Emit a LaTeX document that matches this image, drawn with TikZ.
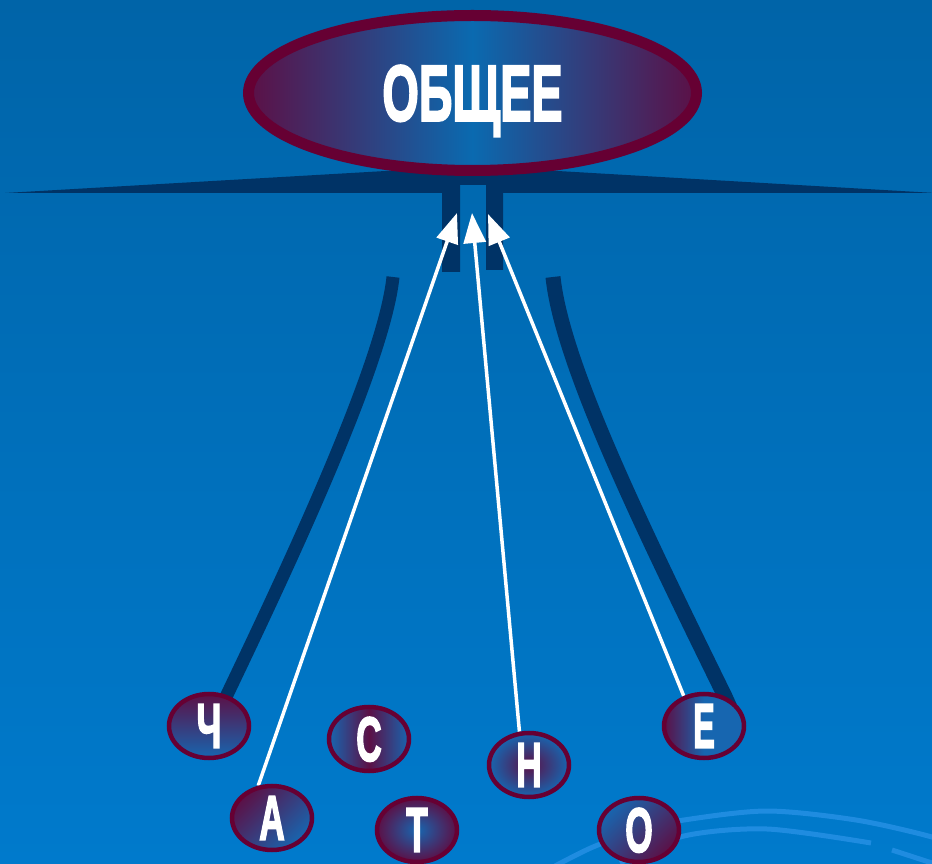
\documentclass[tikz,border=0pt]{standalone}
\usepackage{fontspec}
\newfontfamily\heavyfont{Liberation Sans}[BoldFeatures={FakeBold=3}]
\usetikzlibrary{shapes.geometric,arrows.meta}
\pgfdeclarelayer{bglayer}
\pgfdeclarelayer{midlayer}
\pgfsetlayers{bglayer,midlayer,main}
\definecolor{bgtop}{HTML}{0064A8}
\definecolor{bgbot}{HTML}{007ACC}
\definecolor{navy}{HTML}{003366}
\definecolor{maroon}{HTML}{660033}
\definecolor{mfill}{HTML}{5C1046}
\definecolor{bfill}{HTML}{1766B0}
\definecolor{bcenter}{HTML}{0A6AB0}
\definecolor{arcblue}{HTML}{1F8CE0}
\newcommand{\narrowtext}[2]{\scalebox{#1}[1.1]{#2}}
\begin{document}
\begin{tikzpicture}[x=1pt,y=1pt,
  letter/.style={ellipse, draw=maroon, line width=4.5pt, minimum width=80pt,
    minimum height=64pt, inner sep=0pt, text=white, text depth=0pt,
    font=\heavyfont\bfseries\fontsize{57}{57}\selectfont},
  bigell/.style={ellipse, draw=maroon, line width=11pt, minimum width=448pt,
    minimum height=155pt, inner sep=0pt, text=white, text depth=0pt,
    left color=mfill, right color=mfill, middle color=bcenter,
    font=\heavyfont\bfseries\fontsize{72}{72}\selectfont},
  arcline/.style={draw=arcblue, line width=5pt},
  stem/.style={draw=navy},
  whitearr/.style={draw=white, line width=3.5pt, -{Triangle[length=30pt,width=22pt]}}
]
\useasboundingbox (0,0) rectangle (932,863);
\begin{pgfonlayer}{bglayer}
\shade[top color=bgtop, bottom color=bgbot] (0,0) rectangle (932,863);
\draw[arcline] plot[smooth] coordinates {(555,-3) (593,16) (640,33) (684,43) (767,52) (856,43) (932,26) (960,14)};
\draw[arcline] plot[smooth] coordinates {(620,0) (684,27) (767,34) (871,20)};
\draw[arcline] (892,13) -- (935,-1);
\fill[navy] (5,670) -- (472,697) -- (935,670) -- (503,670) -- (503,593) -- (486,593)
  -- (486,678) -- (460,678) -- (460,591) -- (442,591) -- (442,670) -- cycle;
\end{pgfonlayer}

\node[bigell] (gen) at (472.5,770) {\narrowtext{0.65}{ОБЩЕЕ}};

\node[letter, top color=mfill, bottom color=bfill] (Ch) at (209,137) {\narrowtext{0.62}{Ч}};
\node[letter, left color=bfill, right color=bfill, middle color=mfill] (S) at (369,124) {\narrowtext{0.62}{С}};
\node[letter, top color=mfill, bottom color=bfill, shading angle=45] (A) at (272,45) {\narrowtext{0.62}{А}};
\node[letter, inner color=bfill, outer color=mfill] (T) at (417,33) {\narrowtext{0.62}{Т}};
\node[letter, inner color=mfill, outer color=bfill] (N) at (529,98) {\narrowtext{0.62}{Н}};
\node[letter, left color=mfill, right color=bfill, middle color=bfill] (E) at (704,137) {\narrowtext{0.57}{Е}};
\node[letter, top color=bfill, bottom color=mfill, shading angle=45] (O) at (639,33) {\narrowtext{0.62}{О}};

\begin{pgfonlayer}{midlayer}
\coordinate (lt) at (393,586);
\coordinate (rt) at (553,586);
\draw[stem, line width=13pt] (lt) .. controls (384,500) and (290,300) .. (Ch.60) -- ++(-5,-10);
\draw[stem, line width=15pt] (rt) .. controls (562,500) and (640,340) .. (E.55) -- ++(5,-11);
\coordinate (tipA) at (457,650);
\coordinate (tipN) at (472,650);
\coordinate (tipE) at (488,649);
\draw[whitearr] (A.113) -- (tipA);
\draw[whitearr] (N.106) -- (tipN);
\draw[whitearr] (E.124) -- (tipE);
\end{pgfonlayer}
\end{tikzpicture}
\end{document}
